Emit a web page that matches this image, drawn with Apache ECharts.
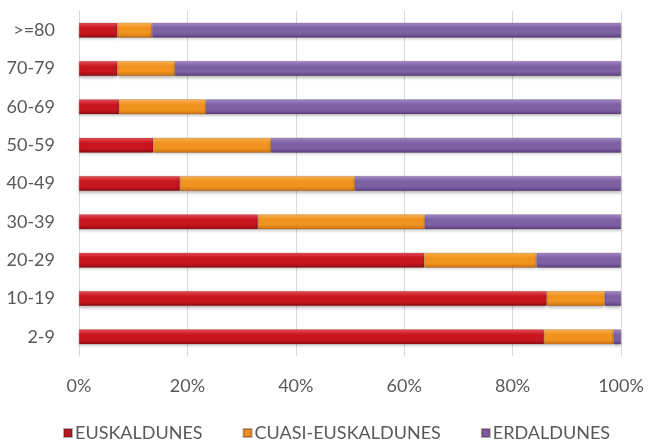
<!DOCTYPE html>
<html><head><meta charset="utf-8">
<script src="https://cdn.jsdelivr.net/npm/echarts@6/dist/echarts.min.js"></script>
<style>html,body{margin:0;padding:0;background:#fff}#c{width:648px;height:441px}</style>
</head><body><div id="c"></div>
<script>
const categories = ['2-9','10-19','20-29','30-39','40-49','50-59','60-69','70-79','>=80'];
const euskaldunes = [85.8, 86.3, 63.7, 33.0, 18.6, 13.7, 7.4, 7.1, 7.1];
const cuasi = [12.8, 10.7, 20.7, 30.8, 32.3, 21.7, 16.0, 10.6, 6.4];
const erdaldunes = [1.4, 3.0, 15.6, 36.2, 49.1, 64.6, 76.6, 82.3, 86.5];
const seriesNames = ['EUSKALDUNES','CUASI-EUSKALDUNES','ERDALDUNES'];
const xTicks = [0,20,40,60,80,100];

function grad(top, mid, bot){
  return new echarts.graphic.LinearGradient(0,0,0,1,[
    {offset:0,color:top},{offset:0.35,color:mid},{offset:0.7,color:mid},{offset:1,color:bot}]);
}
const colors = [
  grad('#E8505A','#C8161F','#8E0B12'),
  grad('#FAB555','#F2931F','#C87212'),
  grad('#A58CCB','#7E61A5','#5B3F7E')
];
const solid = ['#B81820','#F0901E','#7A5CA0'];
const chart = echarts.init(document.getElementById('c'));
const data = [euskaldunes, cuasi, erdaldunes];
chart.setOption({
  animation:false,
  grid:{left:79,right:27,top:11,bottom:85},
  legend:{
    top:419, left:58, itemWidth:8, itemHeight:8, itemGap:40,
    textStyle:{color:'#595959',fontSize:18,fontFamily:'Lato',padding:[0,0,0,-2]},
    data: seriesNames.map((n,i)=>({name:n,icon:'rect',itemStyle:{color:solid[i]}}))
  },
  xAxis:{type:'value',min:xTicks[0],max:xTicks[xTicks.length-1],interval:20,
    axisLabel:{formatter:'{value}%',color:'#595959',fontSize:18,fontFamily:'Lato',margin:21},
    splitLine:{lineStyle:{color:'#D9D9D9'}},axisLine:{show:false},axisTick:{show:false}},
  yAxis:{type:'category',data:categories,
    axisLabel:{color:'#595959',fontSize:18,fontFamily:'Lato',margin:24},
    axisLine:{lineStyle:{color:'#D9D9D9'}},axisTick:{show:false}},
  series: seriesNames.map((n,i)=>({
    name:n,type:'bar',stack:'s',barWidth:15,data:data[i],
    itemStyle:{color:colors[i],borderColor:'rgba(60,20,20,0.35)',borderWidth:0.5,
      shadowColor:'rgba(0,0,0,0.25)',shadowBlur:3,shadowOffsetY:2}
  }))
});
</script></body></html>
